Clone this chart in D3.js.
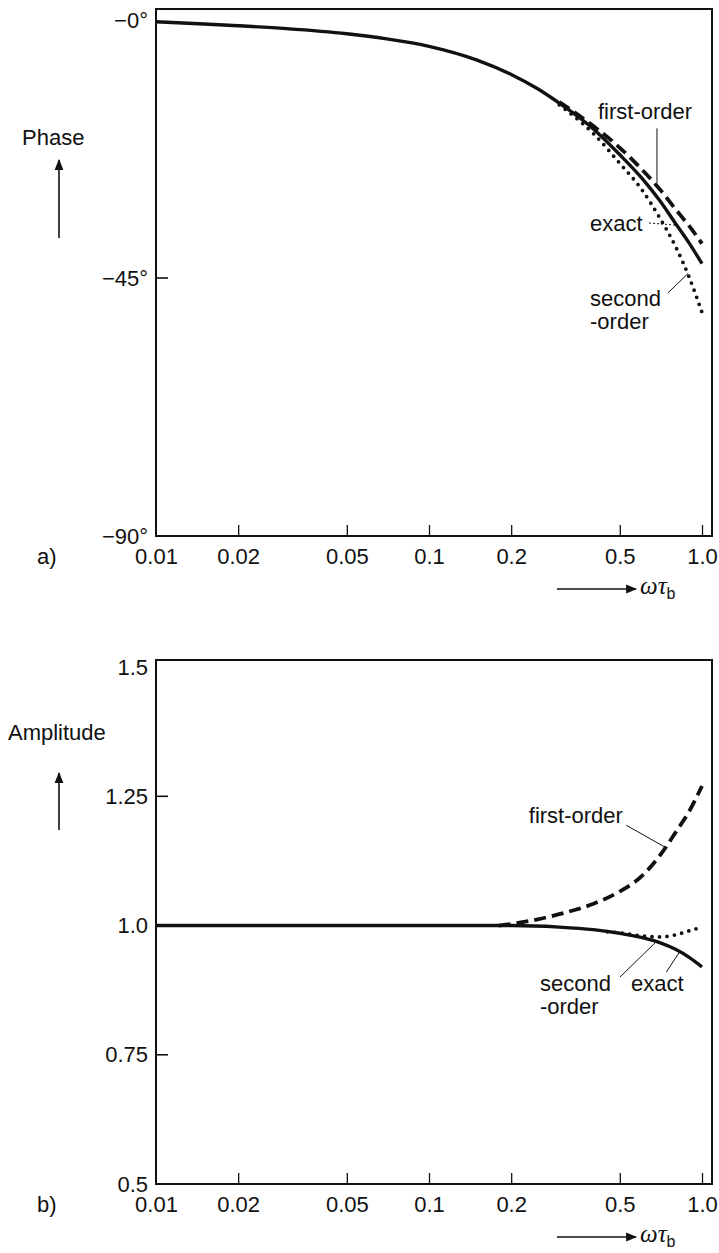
<!DOCTYPE html>
<html>
<head>
<meta charset="utf-8">
<script src="https://cdn.jsdelivr.net/npm/d3@7"></script>
<style>
  html, body { margin: 0; padding: 0; background: #fff; }
  svg text { font-family: "Liberation Sans", Arial, Helvetica, sans-serif; fill: #111; }
</style>
</head>
<body>
<svg id="chart" width="719" height="1253"></svg>
<script>
// ---- data -------------------------------------------------------------
const xTicks = [0.01, 0.02, 0.05, 0.1, 0.2, 0.5, 1.0];
const xTickLabels = ["0.01", "0.02", "0.05", "0.1", "0.2", "0.5", "1.0"];

const phaseTicks = [0, -45, -90];
const phaseTickLabels = ["\u22120\u00B0", "\u221245\u00B0", "\u221290\u00B0"];

const ampTicks = [1.5, 1.25, 1.0, 0.75, 0.5];
const ampTickLabels = ["1.5", "1.25", "1.0", "0.75", "0.5"];

// phase (degrees) vs omega*tau_b
const phaseExactX = [0.01, 0.015, 0.02, 0.03, 0.05, 0.07, 0.1, 0.15, 0.2, 0.25, 0.3, 0.4, 0.5, 0.6, 0.7, 0.8, 0.9, 1.0];
const phaseExactY = [-0.3, -0.7, -1.0, -1.5, -2.4, -3.3, -4.6, -7.0, -9.5, -12.0, -14.5, -19.0, -23.5, -27.5, -31.5, -35.5, -39.0, -42.5];

const phaseFirstX = [0.3, 0.4, 0.5, 0.6, 0.7, 0.8, 0.9, 1.0];
const phaseFirstY = [-14.3, -18.5, -22.3, -26.0, -29.5, -33.0, -36.0, -39.0];

const phaseSecondX = [0.3, 0.4, 0.5, 0.6, 0.7, 0.8, 0.9, 1.0];
const phaseSecondY = [-14.8, -19.8, -25.0, -29.5, -34.5, -39.5, -45.0, -51.0];

// amplitude vs omega*tau_b
const ampExactX = [0.01, 0.05, 0.1, 0.2, 0.3, 0.4, 0.5, 0.6, 0.7, 0.8, 0.9, 1.0];
const ampExactY = [1.0, 1.0, 1.0, 1.0, 0.997, 0.992, 0.985, 0.977, 0.967, 0.954, 0.938, 0.92];

const ampFirstX = [0.18, 0.2, 0.25, 0.3, 0.4, 0.5, 0.6, 0.7, 0.8, 0.9, 1.0];
const ampFirstY = [1.0, 1.003, 1.012, 1.022, 1.042, 1.066, 1.095, 1.135, 1.18, 1.222, 1.27];

const ampSecondX = [0.45, 0.5, 0.6, 0.7, 0.8, 0.9, 1.0];
const ampSecondY = [0.988, 0.986, 0.98, 0.978, 0.982, 0.99, 0.997];

// curve annotations: text anchor (x, y) and leader line (x1,y1)-(x2,y2) in data units
const phaseNotes = [
  { lines: ["first-order"], x: 0.416, y: -15.9, lead: [0.684, -18.9, 0.684, -28.4], dotted: false },
  { lines: ["exact"], x: 0.389, y: -35.4, lead: [0.64, -35.4, 0.81, -35.8], dotted: true },
  { lines: ["second", "-order"], x: 0.389, y: -48.5, lead: [0.75, -47.6, 0.89, -44.2], dotted: false }
];
const ampNotes = [
  { lines: ["first-order"], x: 0.232, y: 1.214, lead: [0.528, 1.194, 0.73, 1.152], dotted: false },
  { lines: ["second", "-order"], x: 0.255, y: 0.889, lead: [0.50, 0.90, 0.69, 0.972], dotted: false },
  { lines: ["exact"], x: 0.55, y: 0.889, lead: [0.74, 0.91, 0.83, 0.95], dotted: false }
];

// ---- layout ------------------------------------------------------------
const svg = d3.select("#chart");
const FONT = 22;
const left = 156, right = 712;

const x = d3.scaleLog().domain([0.01, 1.088]).range([left, right]);

const panels = [
  {
    y: d3.scaleLinear().domain([1.92, -90]).range([9, 536]),
    ticks: phaseTicks, tickLabels: phaseTickLabels, innerTicks: [-45],
    title: "Phase", titleX: 22, titleY: 137, arrowTop: 160, arrowBottom: 238,
    tag: "a)",
    series: [
      { xs: phaseExactX, ys: phaseExactY, kind: "solid" },
      { xs: phaseFirstX, ys: phaseFirstY, kind: "dashed" },
      { xs: phaseSecondX, ys: phaseSecondY, kind: "dotted" }
    ],
    notes: phaseNotes
  },
  {
    y: d3.scaleLinear().domain([1.5137, 0.5]).range([660, 1184]),
    ticks: ampTicks, tickLabels: ampTickLabels, innerTicks: [1.25, 1.0, 0.75],
    title: "Amplitude", titleX: 8, titleY: 732, arrowTop: 773, arrowBottom: 830,
    tag: "b)",
    series: [
      { xs: ampExactX, ys: ampExactY, kind: "solid" },
      { xs: ampFirstX, ys: ampFirstY, kind: "dashed" },
      { xs: ampSecondX, ys: ampSecondY, kind: "dotted" }
    ],
    notes: ampNotes
  }
];

// arrowhead marker for the axis-title arrows
svg.append("defs").append("marker")
  .attr("id", "head")
  .attr("viewBox", "0 0 10 10")
  .attr("refX", 9).attr("refY", 5)
  .attr("markerWidth", 11).attr("markerHeight", 11)
  .attr("markerUnits", "userSpaceOnUse")
  .attr("orient", "auto")
  .append("path").attr("d", "M0,1 L10,5 L0,9 Z").attr("fill", "#111");

panels.forEach(p => {
  const y = p.y;
  const [top, bottom] = [y.range()[0], y.range()[1]];
  const g = svg.append("g");

  // frame
  g.append("rect")
    .attr("x", left).attr("y", top)
    .attr("width", right - left).attr("height", bottom - top)
    .attr("fill", "none").attr("stroke", "#111").attr("stroke-width", 2);

  // x axis: inward ticks, labels below
  const xAxis = d3.axisBottom(x)
    .tickValues(xTicks)
    .tickFormat((d, i) => xTickLabels[i])
    .tickSizeInner(-11).tickSizeOuter(0).tickPadding(20);
  const gx = g.append("g").attr("transform", `translate(0,${bottom})`).call(xAxis);
  gx.select(".domain").remove();
  gx.selectAll(".tick line").attr("stroke", "#111").attr("stroke-width", 1.3)
    .filter(d => d === 0.01).remove();
  gx.selectAll(".tick text")
    .attr("font-size", FONT).attr("font-family", "Liberation Sans, Arial, sans-serif")
    .attr("fill", "#111").attr("dy", "0.32em").attr("y", 21);

  // y axis: labels to the left, short inward ticks at interior values
  const yAxis = d3.axisLeft(y)
    .tickValues(p.ticks)
    .tickFormat((d, i) => p.tickLabels[i])
    .tickSize(0).tickPadding(8);
  const gy = g.append("g").attr("transform", `translate(${left},0)`).call(yAxis);
  gy.select(".domain").remove();
  gy.selectAll(".tick text")
    .attr("font-size", FONT).attr("font-family", "Liberation Sans, Arial, sans-serif")
    .attr("fill", "#111");
  g.selectAll(".inner-tick").data(p.innerTicks).join("line")
    .attr("x1", left).attr("x2", left + 12)
    .attr("y1", d => y(d)).attr("y2", d => y(d))
    .attr("stroke", "#111").attr("stroke-width", 1.6);

  // curves
  const line = d3.line()
    .x(d => x(d[0])).y(d => y(d[1]))
    .curve(d3.curveMonotoneX);
  p.series.forEach(s => {
    const pts = s.xs.map((v, i) => [v, s.ys[i]]);
    const path = g.append("path").datum(pts).attr("d", line)
      .attr("fill", "none").attr("stroke", "#111");
    if (s.kind === "solid") path.attr("stroke-width", 3.4);
    if (s.kind === "dashed") path.attr("stroke-width", 3.8).attr("stroke-dasharray", "12,6");
    if (s.kind === "dotted") path.attr("stroke-width", 3.8)
      .attr("stroke-linecap", "round").attr("stroke-dasharray", "0,7.5");
  });

  // annotations
  p.notes.forEach(n => {
    const t = g.append("text")
      .attr("x", x(n.x)).attr("y", y(n.y))
      .attr("font-size", FONT);
    n.lines.forEach((ln, i) => {
      t.append("tspan").attr("x", x(n.x)).attr("dy", i === 0 ? "0.35em" : "1.05em").text(ln);
    });
    const [x1, y1, x2, y2] = n.lead;
    g.append("line")
      .attr("x1", x(x1)).attr("y1", y(y1)).attr("x2", x(x2)).attr("y2", y(y2))
      .attr("stroke", "#111").attr("stroke-width", 1)
      .attr("stroke-dasharray", n.dotted ? "2,2" : null);
  });

  // axis title with upward arrow
  g.append("text").attr("x", p.titleX).attr("y", p.titleY)
    .attr("dy", "0.35em").attr("font-size", FONT).text(p.title);
  g.append("line")
    .attr("x1", 59).attr("x2", 59)
    .attr("y1", p.arrowBottom).attr("y2", p.arrowTop)
    .attr("stroke", "#111").attr("stroke-width", 1.6)
    .attr("marker-end", "url(#head)");

  // panel tag
  g.append("text").attr("x", 37).attr("y", bottom + 21)
    .attr("dy", "0.32em").attr("font-size", FONT).text(p.tag);

  // x-axis quantity with rightward arrow
  const ay = bottom + 53;
  g.append("line")
    .attr("x1", 557).attr("x2", 636).attr("y1", ay).attr("y2", ay)
    .attr("stroke", "#111").attr("stroke-width", 1.6)
    .attr("marker-end", "url(#head)");
  const q = g.append("text").attr("x", 640).attr("y", ay).attr("dy", "0.3em");
  q.append("tspan").attr("font-family", "Liberation Serif, Times New Roman, serif")
    .attr("font-style", "italic").attr("font-size", FONT + 3).text("\u03C9\u03C4");
  q.append("tspan").attr("font-size", FONT - 6).attr("dy", "0.3em").text("b");
});
</script>
</body>
</html>
